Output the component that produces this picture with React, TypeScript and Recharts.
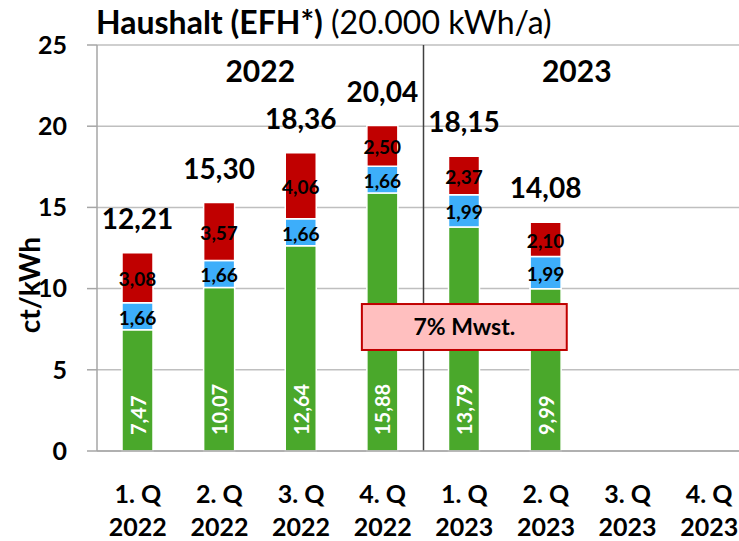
import React from 'react';
import { BarChart, Bar, XAxis, YAxis, CartesianGrid, ReferenceLine, ReferenceArea, LabelList } from 'recharts';

const quarters = ['1. Q', '2. Q', '3. Q', '4. Q', '1. Q', '2. Q', '3. Q', '4. Q'];
const years = ['2022', '2022', '2022', '2022', '2023', '2023', '2023', '2023'];
const beschaffung = [7.47, 10.07, 12.64, 15.88, 13.79, 9.99, null, null];
const netz = [1.66, 1.66, 1.66, 1.66, 1.99, 1.99, null, null];
const abgaben = [3.08, 3.57, 4.06, 2.5, 2.37, 2.1, null, null];
const totals = [12.21, 15.3, 18.36, 20.04, 18.15, 14.08, null, null];
const yTicks = [0, 5, 10, 15, 20, 25];

const cat = (q: string, y: string) => `${q}|${y}`;
const data = quarters.map((q, i) => ({
  name: cat(q, years[i]),
  green: beschaffung[i],
  blue: netz[i],
  red: abgaben[i],
  total: totals[i],
}));

const fmt = (v: any) => (v == null ? '' : Number(v).toFixed(2).replace('.', ','));
const FONT = 'Lato, "Open Sans", sans-serif';

const XTick = (props: any) => {
  const { x, y, payload } = props;
  const [q, yr] = String(payload.value).split('|');
  return (
    <g>
      <text x={x} y={y + 42} textAnchor="middle" dominantBaseline="central" fontSize={25} fontWeight={700} fill="#000" fontFamily={FONT}>{q}</text>
      <text x={x} y={y + 75} textAnchor="middle" dominantBaseline="central" fontSize={25} fontWeight={700} fill="#000" fontFamily={FONT}>{yr}</text>
    </g>
  );
};

const GreenLabel = (props: any) => {
  const { x, y, width, height, value } = props;
  if (value == null) return null;
  const cx = x + width / 2;
  const by = y + height - 16;
  return (
    <text x={cx} y={by} transform={`rotate(-90, ${cx}, ${by})`} textAnchor="start" dominantBaseline="central" fontSize={20} fontWeight={700} fill="#fff" fontFamily={FONT}>{fmt(value)}</text>
  );
};

const MidLabel = (props: any) => {
  const { x, y, width, height, value } = props;
  if (value == null) return null;
  return (
    <text x={x + width / 2} y={y + height / 2 + 1} textAnchor="middle" dominantBaseline="central" fontSize={19} fontWeight={700} fill="#000" fontFamily={FONT}>{fmt(value)}</text>
  );
};

const TotalLabel = (props: any) => {
  const { x, y, width, value } = props;
  if (value == null) return null;
  return (
    <text x={x + width / 2} y={y - 35} textAnchor="middle" dominantBaseline="central" fontSize={28} fontWeight={700} fill="#000" fontFamily={FONT}>{fmt(value)}</text>
  );
};

const InsetBox = (props: any) => {
  const { x, y, width, height } = props;
  return <rect x={x + 20} y={y} width={width - 40} height={height} fill="#ffbfbf" stroke="#c00000" strokeWidth={2} />;
};

const YLabel = (props: any) => {
  const vb = props.viewBox || {};
  const cx = 29;
  const cy = vb.y + vb.height / 2 + 37;
  return (
    <text x={cx} y={cy} transform={`rotate(-90, ${cx}, ${cy})`} textAnchor="middle" dominantBaseline="central" fontSize={28} fontWeight={700} fill="#000" fontFamily={FONT}>ct/kWh</text>
  );
};

export default function App() {
  return (
    <div style={{ position: 'absolute', left: 0, top: 0, width: 739, height: 541, overflow: 'hidden', background: '#fff', fontFamily: FONT }}>
      <div style={{ position: 'absolute', left: 96, top: 6, fontSize: 32, lineHeight: '32px', whiteSpace: 'nowrap', color: '#000', zIndex: 2 }}>
        <span style={{ fontWeight: 700 }}>Haushalt (EFH*)</span>
        <span style={{ fontWeight: 400 }}> (20.000 kWh/a)</span>
      </div>
      <BarChart width={760} height={541} data={data} margin={{ top: 45, right: 10, bottom: 0, left: 0 }} barSize={31} style={{ fontFamily: FONT }}>
        <CartesianGrid vertical={false} stroke="#bfbfbf" strokeWidth={1.5} />
        <XAxis dataKey="name" height={90} tickLine={false} tickSize={0} tickMargin={0} axisLine={{ stroke: '#a6a6a6', strokeWidth: 1.5 }} tick={<XTick />} interval={0} />
        <YAxis width={97} domain={[0, 25]} ticks={yTicks} interval={0} tickSize={10} tickMargin={20}
          axisLine={{ stroke: '#a6a6a6', strokeWidth: 1.5 }} tickLine={{ stroke: '#a6a6a6', strokeWidth: 1.5 }}
          tick={{ fill: '#000', fontSize: 25, fontWeight: 700, fontFamily: FONT }}
          label={<YLabel />} />
        <Bar dataKey="green" stackId="a" fill="#4aa82b" stroke="#ffffff" strokeWidth={1.5} isAnimationActive={false}>
          <LabelList dataKey="green" content={<GreenLabel />} />
        </Bar>
        <Bar dataKey="blue" stackId="a" fill="#3daefa" stroke="#ffffff" strokeWidth={1.5} isAnimationActive={false}>
          <LabelList dataKey="blue" content={<MidLabel />} />
        </Bar>
        <Bar dataKey="red" stackId="a" fill="#c00000" stroke="#ffffff" strokeWidth={1.5} isAnimationActive={false}>
          <LabelList dataKey="red" content={<MidLabel />} />
          <LabelList dataKey="total" content={<TotalLabel />} />
        </Bar>
        <ReferenceLine x={cat('1. Q', '2023')} position="start" stroke="#404040" strokeWidth={1.5} zIndex={350} />
        <ReferenceArea x1={cat('1. Q', '2022')} x2={cat('4. Q', '2022')} y1={21.7} y2={25} fill="none" fillOpacity={0} stroke="none"
          label={{ value: '2022', position: 'center', fontSize: 30, fontWeight: 700, fill: '#000', fontFamily: FONT }} />
        <ReferenceArea x1={cat('1. Q', '2023')} x2={cat('4. Q', '2023')} y1={21.7} y2={25} fill="none" fillOpacity={0} stroke="none"
          label={{ value: '2023', position: 'center', dx: -10, fontSize: 30, fontWeight: 700, fill: '#000', fontFamily: FONT }} />
        <ReferenceArea x1={cat('4. Q', '2022')} x2={cat('2. Q', '2023')} y1={6.22} y2={9.05} shape={<InsetBox />} zIndex={400}
          label={{ value: '7% Mwst.', position: 'center', fontSize: 23, fontWeight: 700, fill: '#000', fontFamily: FONT }} />
      </BarChart>
    </div>
  );
}
